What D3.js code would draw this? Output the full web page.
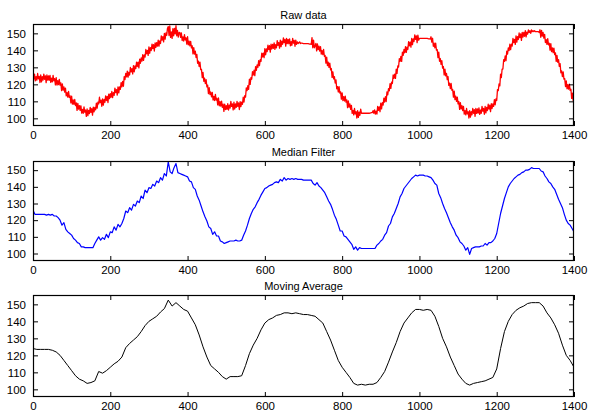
<!DOCTYPE html>
<html>
<head>
<meta charset="utf-8">
<script src="https://cdn.jsdelivr.net/npm/d3@7"></script>
<style>
  html, body { margin: 0; padding: 0; background: #fff; }
  svg { display: block; }
  text { font-family: "Liberation Sans", Arial, Helvetica, sans-serif; fill: #000; }
</style>
</head>
<body>
<svg id="chart" width="591" height="414"></svg>
<script>
// Raw signal, one value every 2 samples (0..1400)
const rawStep = 2;
const rawValues = [
  125.5,123,126,122,124.5, 122.5,126.4,123.3,124.7,121.1,
  125.5,121.5,124.5,122.5,126, 123,125,121,125.5,122.5,
  125,122.4,125.3,121.2,123.6, 121.5,125.3,122.1,123.4,119.7,
  124,119.6,122.2,119.8,122.9, 119.5,120.9,116.3,120.2,116.6,
  118.5,115.4,117.8,113.2,115.1, 112.5,115.9,112.3,113.2,109.1,
  113,108.4,110.8,108.2,111.1, 107.5,109.1,104.7,108.8,105.4,
  107.5,104.7,107.4,103.1,105.3, 103,106.8,103.6,104.9,101.2,
  105.5,101.6,104.7,102.8,106.4, 103.5,105.7,101.9,106.6,103.8,
  106.5,105,109,106,109.5, 108.5,112.4,109.3,110.7,107.1,
  111.5,107.8,111.1,109.4,113.2, 110.5,112.9,109.3,114.2,111.6,
  114.5,112.4,115.8,112.2,115.1, 113.5,117.8,115.1,116.9,113.7,
  118.5,115,118.5,117,121, 118.5,121.7,118.9,124.6,122.8,
  126.5,124.4,127.8,124.2,127.1, 125.5,129.9,127.3,129.2,126.1,
  131,127.4,130.8,129.2,133.1, 130.5,133.1,129.7,134.8,132.4,
  135.5,133.7,137.4,134.1,137.3, 136,140.5,138,140,137,
  142,138.3,141.6,139.9,143.7, 141,143.3,139.6,144.4,141.7,
  144.5,142.5,146,142.5,145.5, 144,148.5,146,148,145,
  150,146.6,150.2,148.8,152.9, 154,148.7,154.4,147.6,150.8,
  147,152.8,148.6,152.9,149.7, 154.5,148.6,151.7,147.8,150.4,
  150.5,147.6,150.2,145.8,147.9, 145.5,149.3,146.1,147.4,143.7,
  148,143.2,145.4,142.6,145.3, 141.5,142.7,137.9,141.6,137.8,
  139.5,135.8,137.6,132.4,133.7, 130.5,133.1,128.7,128.8,123.9,
  127,121.8,123.6,120.4,122.7, 118.5,119.5,114.5,118,114,
  115.5,112.6,115.2,110.8,112.9, 110.5,114.1,110.7,111.8,107.9,
  112,107.4,109.8,107.2,110.1, 106.5,108.3,104.1,108.4,105.2,
  107.5,105.3,108.6,104.9,107.7, 106,110,107,108.5,105,
  109.5,105.5,108.5,106.5,110, 107,109.1,105.2,109.8,106.9,
  109.5,108.2,112.4,109.6,113.3, 112.5,117.9,116.3,119.2,117.1,
  123,120,124,123,127.5, 125.5,128.3,125.1,130.4,128.2,
  131.5,130,134,131,134.5, 133.5,138.3,136.1,138.4,135.7,
  141,137.4,140.8,139.2,143.1, 140.5,142.7,138.9,143.6,140.8,
  143.5,141.2,144.4,140.6,143.3, 141.5,145.7,142.9,144.6,141.3,
  146,142.2,145.4,143.6,147.3, 144.5,146.5,142.5,147,144,
  146.5,143.9,146.8,142.7,145.1, 143,147.1,144.2,145.8,142.4,
  146,143.5,145,144,144.5, 145,144,144.3,144.2,144.1,
  144,144,144,144,144, 144,143.9,143.8,143.7,143.6,
  143.5,147.5,141.5,146,141.5, 142.5,144.1,139.7,143.8,140.4,
  142.5,139.6,142.2,137.8,139.9, 137.5,140.5,136.5,137,132.5,
  136,131,133,130,132.5, 128.5,129.3,124.1,127.4,123.2,
  124.5,120.8,122.6,117.4,118.7, 115.5,118.7,114.9,115.6,111.3,
  115,110.4,112.8,110.2,113.1, 109.5,110.9,106.3,110.2,106.6,
  108.5,105.3,107.6,102.9,104.7, 102,105.8,102.6,103.9,100.2,
  104.5,100.6,103.7,101.8,105.4, 103,103,103,103,103,
  103,103,103,103,103, 103,103.1,103.2,103.3,103.4,
  104.5,103,105,102.5,104.2, 102.5,107.1,104.7,106.8,103.9,
  109,105.6,109.2,107.8,111.9, 109.5,112.7,109.9,115.6,113.8,
  117.5,116.2,120.4,117.6,121.3, 120.5,125.5,123.5,126,123.5,
  129,126.4,130.8,130.2,135.1, 133.5,136.5,133.5,139,137,
  140.5,138.6,142.2,138.8,141.9, 140.5,145.1,142.7,144.8,141.9,
  147,143.4,146.8,145.2,149.1, 146.5,148.5,144.5,149,146,
  147,147,147,147,147, 147,147,147,147,147,
  147,146.9,146.8,146.7,146.6, 148,144.8,147.1,142.4,144.2,
  141.5,144.3,140.1,140.4,135.7, 139,133.6,135.2,131.8,133.9,
  129.5,130.5,125.5,129,125, 126.5,122.8,124.6,119.4,120.7,
  117.5,120.5,116.5,117,112.5, 116,111,113,110,112.5,
  108.5,109.9,105.3,109.2,105.6, 107.5,104.5,107,102.5,104.5,
  102,105.8,102.6,103.9,100.2, 104.5,100.7,103.9,102.1,105.8,
  103,105.1,101.2,105.8,102.9, 105.5,103.1,106.2,102.3,104.9,
  103,107.1,104.2,105.8,102.4, 107,103.2,106.4,104.6,108.3,
  105.5,107.7,103.9,108.6,105.8, 108.5,107,111,108,111.5,
  110.5,116.9,116.3,120.2,119.1, 126,124,129,129,134.5,
  133.5,136.7,133.9,139.6,137.8, 141.5,139.8,143.6,140.4,143.7,
  142.5,147,144.5,146.5,143.5, 148.5,144.8,148.1,146.4,150.2,
  147.5,149.7,145.9,150.6,147.8, 150.5,148.3,151.6,147.9,150.7,
  149.5,152,150.5,151.5,150, 152,151,151.5,151,151.5,
  151,151,151,151,151, 150.5,152.1,147.7,151.8,148.4,
  150.5,147.2,149.4,144.6,146.3, 143.5,146.9,143.3,144.2,140.1,
  144,139.2,141.4,138.6,141.3, 137.5,138.5,133.5,137,133,
  134.5,130.6,132.2,126.8,127.9, 124.5,127.3,123.1,123.4,118.7,
  122,117.4,119.8,117.2,120.1, 116.5,117.1,111.7,114.8,110.4,
  110
];

// Median-filtered signal, one value every 5 samples
const medianStep = 5;
const medianValues = [
  126.0,123.5,123.5,123.5,123.5,123.5,123.5,123.0,123.5,123.0,123.5,122.5,122.5,121.5,120.0,117.0,118.5,114.5,113.0,112.0,
  111.0,109.0,108.0,106.5,106.0,104.0,104.0,103.5,103.5,103.5,103.5,103.5,106.0,108.0,110.0,108.0,109.5,108.5,111.5,109.5,
  113.0,112.5,116.0,114.0,117.5,116.0,118.0,121.0,125.5,124.5,127.5,126.0,129.5,128.5,131.5,130.5,134.5,133.0,138.0,136.5,
  139.5,139.0,141.5,140.5,143.5,142.5,145.5,144.0,148.0,146.5,155.0,149.0,148.0,151.5,154.0,148.5,148.0,147.5,147.0,146.5,
  146.0,143.5,143.0,139.5,138.5,134.5,132.0,128.5,125.0,122.0,119.5,116.0,115.0,111.5,113.0,110.5,110.5,107.5,107.0,106.0,
  106.5,107.0,107.5,107.5,107.5,108.0,107.5,107.5,108.0,111.0,113.5,117.0,121.0,124.0,126.5,128.0,130.5,132.5,135.0,137.0,
  139.0,139.5,140.5,141.0,141.5,142.5,143.0,142.5,144.5,143.5,145.5,144.0,145.0,144.5,145.0,144.5,145.0,144.5,144.5,144.5,
  144.0,144.0,144.0,144.0,144.0,142.0,141.0,142.5,140.5,139.5,138.0,136.5,134.0,131.5,129.5,126.5,123.0,120.5,117.0,113.5,
  113.5,110.5,110.0,108.5,107.0,105.5,102.5,104.0,102.0,103.5,103.0,103.0,103.0,103.0,103.0,103.0,103.0,103.0,105.0,106.0,
  107.5,108.5,111.0,112.5,116.5,118.0,122.0,124.0,127.0,130.0,134.0,136.0,139.0,140.5,142.0,143.5,145.0,146.0,147.0,146.5,
  147.0,147.0,147.0,146.5,146.5,146.0,145.5,144.0,142.0,141.0,136.0,133.5,130.0,127.0,124.5,121.5,118.5,116.0,114.0,111.0,
  109.5,107.0,106.0,104.5,102.0,103.5,99.5,103.0,103.5,104.0,104.0,104.0,104.5,104.5,106.0,105.0,106.5,106.5,107.5,109.0,
  112.0,118.0,124.0,128.5,133.0,136.5,140.0,142.0,143.5,145.0,146.0,147.0,147.5,148.5,149.0,150.0,150.0,150.5,151.5,151.0,
  151.0,151.0,151.0,149.5,149.0,146.5,145.0,143.0,142.0,140.0,138.5,135.5,132.5,130.0,127.5,123.5,120.0,118.0,117.0,115.0,
  113.0
];

// Moving-average signal, one value every 10 samples
const averageStep = 10;
const averageValues = [
  124.0,123.5,123.5,123.5,123.5,123.0,122.0,120.0,117.0,114.0,111.0,108.0,106.0,105.0,103.5,104.0,105.0,110.5,109.5,111.0,
  113.0,115.0,116.5,119.0,124.5,127.0,129.0,131.0,134.0,137.5,140.0,141.5,143.0,145.5,147.5,152.5,149.0,151.0,149.0,147.0,
  146.0,142.0,138.0,132.0,125.0,119.0,114.0,112.0,110.0,107.5,106.0,107.5,107.5,107.5,108.0,114.0,121.0,126.0,130.0,135.0,
  139.0,141.0,142.0,143.5,144.0,145.0,145.0,144.5,145.0,144.5,144.0,144.0,143.5,143.0,141.0,139.0,134.0,129.0,123.0,117.0,
  113.0,110.0,107.0,103.5,102.5,103.0,102.5,103.0,103.0,104.0,107.0,110.5,116.0,122.0,127.5,134.0,139.0,142.0,145.0,147.0,
  147.0,146.5,147.0,146.5,143.0,137.0,130.0,125.0,119.0,114.0,109.0,106.0,103.5,102.5,103.5,104.0,104.5,105.0,106.0,107.0,
  112.0,124.0,134.0,140.0,144.0,146.5,148.0,149.0,150.5,151.0,151.0,151.0,149.0,145.0,142.0,138.0,133.0,126.0,120.0,117.0,
  113.0
];

const xTicks = [0, 200, 400, 600, 800, 1000, 1200, 1400];
const yTicks = [100, 110, 120, 130, 140, 150];
const panelTitles = ["Raw data", "Median Filter", "Moving Average"];

const panels = [
  { title: panelTitles[0], values: rawValues, step: rawStep, color: "#ff0000", width: 1.3, top: 24, bottom: 126 },
  { title: panelTitles[1], values: medianValues, step: medianStep, color: "#0000ff", width: 1.2, top: 161, bottom: 261 },
  { title: panelTitles[2], values: averageValues, step: averageStep, color: "#000000", width: 1, top: 295, bottom: 397 }
];

const svg = d3.select("#chart");
const left = 33, right = 574;
const x = d3.scaleLinear().domain([0, 1400]).range([left, right]);
const tickLen = 5;
const fmt = d3.format("d");

panels.forEach(p => {
  const y = d3.scaleLinear().domain([95.5, 155.5]).range([p.bottom, p.top]);
  const g = svg.append("g");

  // data line, clipped to the axes box
  const clipId = "clip-" + p.top;
  g.append("clipPath").attr("id", clipId)
    .append("rect").attr("x", left).attr("y", p.top)
    .attr("width", right - left).attr("height", p.bottom - p.top);

  const line = d3.line()
    .x((d, i) => x(i * p.step))
    .y(d => y(d));

  g.append("path")
    .datum(p.values)
    .attr("clip-path", `url(#${clipId})`)
    .attr("fill", "none")
    .attr("stroke", p.color)
    .attr("stroke-width", p.width)
    .attr("stroke-linejoin", "round")
    .attr("d", line);

  // ticks point inward on all four sides; labels only bottom and left
  const xb = g.append("g").attr("transform", `translate(0,${p.bottom})`)
    .call(d3.axisBottom(x).tickValues(xTicks).tickFormat(fmt).tickSizeInner(-tickLen).tickSizeOuter(0).tickPadding(5));
  const xt = g.append("g").attr("transform", `translate(0,${p.top})`)
    .call(d3.axisTop(x).tickValues(xTicks).tickSizeInner(-tickLen).tickSizeOuter(0).tickFormat(""));
  const yl = g.append("g").attr("transform", `translate(${left},0)`)
    .call(d3.axisLeft(y).tickValues(yTicks).tickFormat(fmt).tickSizeInner(-tickLen).tickSizeOuter(0).tickPadding(7));
  const yr = g.append("g").attr("transform", `translate(${right},0)`)
    .call(d3.axisRight(y).tickValues(yTicks).tickSizeInner(-tickLen).tickSizeOuter(0).tickFormat(""));

  [xb, xt, yl, yr].forEach(a => {
    a.select(".domain").remove();
    a.selectAll("line").attr("stroke", "#000").attr("stroke-width", 1);
    a.selectAll("text").attr("font-size", 11.5).attr("font-family", '"Liberation Sans", Arial, sans-serif').attr("fill", "#000");
  });

  // axes box
  g.append("rect")
    .attr("x", left + 0.5).attr("y", p.top + 0.5)
    .attr("width", right - left - 1).attr("height", p.bottom - p.top - 1)
    .attr("fill", "none").attr("stroke", "#000").attr("stroke-width", 1.2);

  g.append("text")
    .attr("x", (left + right) / 2)
    .attr("y", p.top - 5)
    .attr("text-anchor", "middle")
    .attr("font-size", 11)
    .text(p.title);
});
</script>
</body>
</html>
